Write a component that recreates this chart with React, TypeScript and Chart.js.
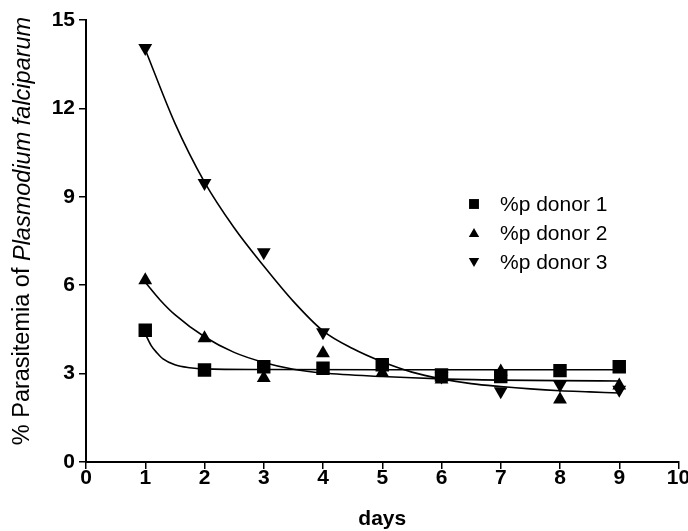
import { useEffect, useRef } from "react";
import { Chart, registerables } from "chart.js";
Chart.register(...registerables);

const days = [1, 2, 3, 4, 5, 6, 7, 8, 9];
const donor1 = [4.47, 3.12, 3.23, 3.18, 3.3, 2.95, 2.9, 3.1, 3.23];
const donor2 = [6.17, 4.2, 2.85, 3.69, 3.02, 2.8, 3.07, 2.12, 2.6];
const donor3 = [14.05, 9.47, 7.12, 4.4, 3.35, 2.9, 2.4, 2.62, 2.45];

// fitted curves
const fit1X = [1, 1.1, 1.2, 1.3, 1.5, 1.75, 2, 3, 5, 9];
const fit1Y = [4.35, 3.95, 3.7, 3.5, 3.3, 3.2, 3.16, 3.14, 3.13, 3.13];
const fit2X = [1, 1.25, 1.5, 2, 2.5, 3, 3.5, 4, 5, 6, 7, 8, 9];
const fit2Y = [6.1, 5.5, 5.0, 4.25, 3.72, 3.38, 3.15, 3.02, 2.9, 2.82, 2.78, 2.76, 2.75];
const fit3X = [1, 1.5, 2, 2.5, 3, 3.5, 4, 4.5, 5, 5.5, 6, 6.5, 7, 7.5, 8, 8.5, 9];
const fit3Y = [14.0, 11.5, 9.5, 7.95, 6.65, 5.45, 4.45, 3.85, 3.4, 3.05, 2.82, 2.66, 2.56, 2.48, 2.42, 2.38, 2.34];

const seriesNames = ["%p donor 1", "%p donor 2", "%p donor 3"];
const xTicks = [0, 1, 2, 3, 4, 5, 6, 7, 8, 9, 10];
const yTicks = [0, 3, 6, 9, 12, 15];
const xTitle = "days";
const yTitlePlain = "% Parasitemia of ";
const yTitleItalic = "Plasmodium falciparum";

const FONT = "Arial, 'Liberation Sans', sans-serif";

const pts = (xs: number[], ys: number[]) => xs.map((x, i) => ({ x, y: ys[i] }));

function drawMarker(ctx: CanvasRenderingContext2D, style: string, r: number, rot: number, x: number, y: number) {
  ctx.beginPath();
  if (style === "rect") {
    const s = r * Math.SQRT1_2;
    ctx.rect(x - s, y - s, 2 * s, 2 * s);
  } else {
    let rad = (rot * Math.PI) / 180;
    ctx.moveTo(x + Math.sin(rad) * r, y - Math.cos(rad) * r);
    rad += (2 * Math.PI) / 3;
    ctx.lineTo(x + Math.sin(rad) * r, y - Math.cos(rad) * r);
    rad += (2 * Math.PI) / 3;
    ctx.lineTo(x + Math.sin(rad) * r, y - Math.cos(rad) * r);
    ctx.closePath();
  }
  ctx.fill();
}

const customPlugin = {
  id: "custom",
  afterDraw(chart: any) {
    const ctx = chart.ctx as CanvasRenderingContext2D;
    // y-axis title with italic part
    ctx.save();
    ctx.fillStyle = "#000";
    ctx.textBaseline = "middle";
    const plainFont = `23.5px ${FONT}`;
    const italFont = `italic 23.5px ${FONT}`;
    ctx.font = plainFont;
    const w1 = ctx.measureText(yTitlePlain).width;
    ctx.font = italFont;
    const w2 = ctx.measureText(yTitleItalic).width;
    const total = w1 + w2;
    const cy = 231;
    ctx.translate(23, cy);
    ctx.rotate(-Math.PI / 2);
    ctx.textAlign = "left";
    ctx.font = plainFont;
    ctx.fillText(yTitlePlain, -total / 2, 0);
    ctx.font = italFont;
    ctx.fillText(yTitleItalic, -total / 2 + w1, 0);
    ctx.restore();

    // legend
    ctx.save();
    const styles = [
      { style: "rect", rot: 0, r: 7 },
      { style: "triangle", rot: 0, r: 6 },
      { style: "triangle", rot: 180, r: 6 },
    ];
    const lx = 474;
    const ly = [204, 233, 262];
    ctx.font = `21px ${FONT}`;
    ctx.textBaseline = "middle";
    ctx.textAlign = "left";
    seriesNames.forEach((name, i) => {
      ctx.fillStyle = "#000";
      const s = styles[i];
      drawMarker(ctx, s.style, s.r, s.rot, lx, ly[i] + (s.style === "triangle" ? (s.rot ? -1 : 1) : 0));
      ctx.fillText(name, 500, ly[i] + 1);
    });
    ctx.restore();
  },
};

export default function App() {
  const ref = useRef<HTMLCanvasElement>(null);
  useEffect(() => {
    document.body.style.margin = "0";
    const lineDs = (xs: number[], ys: number[]) => ({
      type: "line" as const,
      data: pts(xs, ys),
      borderColor: "#000",
      borderWidth: 1.6,
      pointRadius: 0,
      fill: false,
      cubicInterpolationMode: "monotone" as const,
      order: 2,
    });
    const ptDs = (ys: number[], style: string, rot: number, r: number, name: string) => ({
      type: "scatter" as const,
      label: name,
      data: days.map((d, i) => ({ x: d, y: ys[i] })),
      backgroundColor: "#000",
      borderColor: "#000",
      borderWidth: 0,
      pointStyle: style,
      pointRotation: rot,
      pointRadius: r,
      order: 1,
    });
    const chart = new Chart(ref.current!, {
      type: "scatter",
      data: {
        datasets: [
          lineDs(fit1X, fit1Y),
          lineDs(fit2X, fit2Y),
          lineDs(fit3X, fit3Y),
          ptDs(donor3, "triangle", 180, 8, seriesNames[2]),
          ptDs(donor2, "triangle", 0, 8, seriesNames[1]),
          ptDs(donor1, "rect", 0, 9.5, seriesNames[0]),
        ] as any,
      },
      options: {
        responsive: false,
        animation: false,
        devicePixelRatio: 1,
        layout: { padding: { top: 20, right: 8, left: 0, bottom: 0 } },
        plugins: { legend: { display: false }, tooltip: { enabled: false } },
        scales: {
          x: {
            type: "linear",
            min: 0,
            max: 10,
            afterBuildTicks: (s: any) => {
              s.ticks = xTicks.map((v) => ({ value: v }));
            },
            afterFit: (s: any) => {
              s.height = 69;
              s.paddingRight = 0;
            },
            ticks: {
              color: "#000",
              font: { family: FONT, size: 21, weight: "bold" },
              padding: -3,
              maxRotation: 0,
            },
            grid: {
              display: true,
              drawOnChartArea: false,
              drawTicks: true,
              tickLength: 7,
              color: "#000",
              lineWidth: 1.5,
            },
            border: { display: true, color: "#000", width: 2 },
            title: {
              display: true,
              text: xTitle,
              color: "#000",
              font: { family: FONT, size: 21, weight: "bold" },
              padding: { top: 0, bottom: -1 },
            },
          },
          y: {
            type: "linear",
            min: 0,
            max: 15,
            afterBuildTicks: (s: any) => {
              s.ticks = yTicks.map((v) => ({ value: v }));
            },
            afterFit: (s: any) => {
              s.width = 86;
            },
            ticks: {
              color: "#000",
              font: { family: FONT, size: 21, weight: "bold" },
              padding: 4,
            },
            grid: {
              display: true,
              drawOnChartArea: false,
              drawTicks: true,
              tickLength: 7,
              color: "#000",
              lineWidth: 1.5,
            },
            border: { display: true, color: "#000", width: 2 },
          },
        },
      },
      plugins: [customPlugin],
    });
    return () => chart.destroy();
  }, []);
  return <canvas ref={ref} width={688} height={531} style={{ display: "block" }} />;
}
